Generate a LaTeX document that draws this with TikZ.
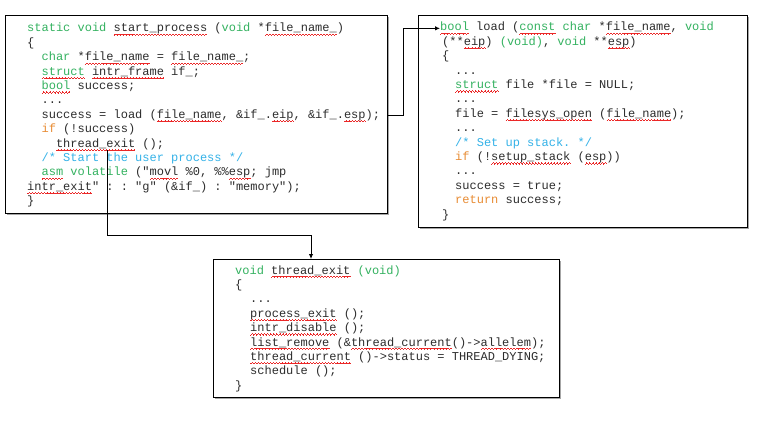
\documentclass[tikz,border=0pt]{standalone}
\usepackage{fontspec}
\setmonofont{Liberation Mono}
\usetikzlibrary{arrows.meta,shadows}
\definecolor{kwgreen}{RGB}{52,178,96}
\definecolor{kworange}{RGB}{232,140,52}
\definecolor{cmblue}{RGB}{52,178,232}
\definecolor{codegray}{RGB}{45,45,45}
\definecolor{wavered}{RGB}{235,40,40}
\newcommand\kw[1]{\textcolor{kwgreen}{#1}}
\newcommand\ko[1]{\textcolor{kworange}{#1}}
\newcommand\cm[1]{\textcolor{cmblue}{#1}}
\newsavebox\wavebox
\newcommand\sq[1]{\leavevmode\setbox0=\hbox{#1}\rlap{\copy0}\lower3.4pt\hbox to \wd0{\xleaders\copy\wavebox\hfill}}
\tikzset{
  codebox/.style={draw=black, line width=1.1pt, fill=white, anchor=north west, inner sep=0pt,
    drop shadow={shadow xshift=1.5pt, shadow yshift=-1.5pt, fill=gray!70, opacity=1}},
  ln/.style={anchor=base west, inner sep=0pt, text=codegray, font=\ttfamily\fontsize{12}{14.4}\selectfont},
  arr/.style={draw=black, line width=0.9pt, -{Latex[length=5pt,width=4.5pt]}}
}
\begin{document}
\sbox\wavebox{\color{wavered}\rule[0pt]{0.75pt}{0.45pt}\rule[0.6pt]{0.75pt}{0.45pt}\rule[1.2pt]{0.75pt}{0.45pt}\rule[0.6pt]{0.75pt}{0.45pt}}%
\begin{tikzpicture}[x=1pt,y=-1pt]
\useasboundingbox (0,0) rectangle (767,430);
% boxes
\node[codebox, minimum width=382pt, minimum height=198pt] (box1) at (5,15) {};
\node[codebox, minimum width=329pt, minimum height=212pt] (box2) at (418,15) {};
\node[codebox, minimum width=346pt, minimum height=138pt] (box3) at (213,259) {};
% box 1
\node[ln] (a1) at (27,32) {\kw{static void} \sq{start\_process} (\kw{void} *\sq{file\_name\_})};
\node[ln] (a2) at (27,46.4) {\{};
\node[ln] (a3) at (41.4,60.8) {\kw{char} *\sq{file\_name} = \sq{file\_name\_};};
\node[ln] (a4) at (41.4,75.2) {\kw{\sq{struct}} \sq{intr\_frame} if\_;};
\node[ln] (a5) at (41.4,89.6) {\kw{\sq{bool}} success;};
\node[ln] (a6) at (41.4,104) {...};
\node[ln] (a7) at (41.4,118.4) {success = load (\sq{file\_name}, \&if\_.\sq{eip}, \&if\_.\sq{esp});};
\node[ln] (a8) at (41.4,132.8) {\ko{if} (!success)};
\node[ln] (a9) at (55.8,147.2) {\sq{thread\_exit} ();};
\node[ln] (a10) at (41.4,161.6) {\cm{/* Start the user process */}};
\node[ln] (a11) at (41.4,176) {\kw{\sq{asm} volatile} ("\sq{movl} \%0, \%\%\sq{esp}; jmp};
\node[ln] (a12) at (27,190.4) {\sq{intr\_exit}" : : "g" (\&if\_) : "memory");};
\node[ln] (a13) at (27,204.8) {\}};
% box 2
\node[ln] (b1) at (440,31) {\kw{\sq{bool}} load (\kw{\sq{const} char} *\sq{file\_name}, \kw{void}};
\node[ln] (b2) at (442,45.4) {(**\sq{eip}) \kw{(void)}, \kw{void} **\sq{esp})};
\node[ln] (b3) at (442,59.8) {\{};
\node[ln] (b4) at (455,74.2) {...};
\node[ln] (b5) at (455,88.6) {\kw{\sq{struct}} file *file = NULL;};
\node[ln] (b6) at (455,103) {...};
\node[ln] (b7) at (455,117.4) {file = \sq{filesys\_open} (\sq{file\_name});};
\node[ln] (b8) at (455,131.8) {...};
\node[ln] (b9) at (455,146.2) {\cm{/* Set up stack. */}};
\node[ln] (b10) at (455,160.6) {\ko{if} (!\sq{setup\_stack} (\sq{esp}))};
\node[ln] (b11) at (455,175) {...};
\node[ln] (b12) at (455,189.4) {success = true;};
\node[ln] (b13) at (455,203.8) {\ko{return} success;};
\node[ln] (b14) at (442,218.2) {\}};
% box 3
\node[ln] (c1) at (235,274) {\kw{void} \sq{thread\_exit} \kw{(void)}};
\node[ln] (c2) at (235,288.4) {\{};
\node[ln] (c3) at (250,302.8) {...};
\node[ln] (c4) at (250,317.2) {\sq{process\_exit} ();};
\node[ln] (c5) at (250,331.6) {\sq{intr\_disable} ();};
\node[ln] (c6) at (250,346) {\sq{list\_remove} (\&\sq{thread\_current}()->\sq{allelem});};
\node[ln] (c7) at (250,360.4) {\sq{thread\_current} ()->status = THREAD\_DYING;};
\node[ln] (c8) at (250,374.8) {schedule ();};
\node[ln] (c9) at (235,389.2) {\}};
% connectors
\draw[arr] (box1.east |- a7) -- ++(15,0) |- (b1.west);
\coordinate (s2) at (107,150);
\coordinate (j) at (311,235);
\draw[arr] (s2) |- (j) -- (j |- box3.north);
\end{tikzpicture}
\end{document}
